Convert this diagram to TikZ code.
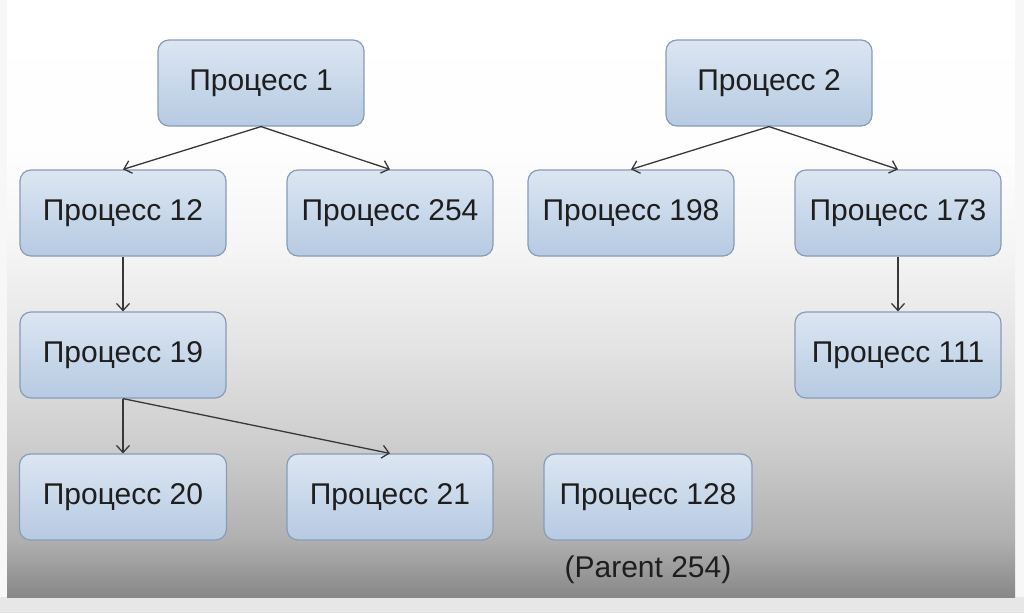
\documentclass[tikz,border=0pt]{standalone}
\usepackage{fontspec}
\setmainfont{Liberation Sans}
\usetikzlibrary{arrows.meta}
\definecolor{boxtop}{HTML}{DCE6F2}
\definecolor{boxbot}{HTML}{B6CAE2}
\definecolor{boxline}{HTML}{889CB6}
\definecolor{arrowc}{HTML}{383838}
\definecolor{txt}{HTML}{1E1E1E}
\definecolor{strip}{HTML}{E7E7E7}
\definecolor{outside}{HTML}{F7F7F7}
\pgfdeclareverticalshading{slidebg}{100bp}{%
  rgb(0bp)=(0.53,0.53,0.53);
  rgb(25bp)=(0.53,0.53,0.53);
  rgb(29.8bp)=(0.69,0.69,0.69);
  rgb(37.3bp)=(0.80,0.80,0.80);
  rgb(45.7bp)=(0.89,0.89,0.89);
  rgb(54.1bp)=(0.96,0.96,0.96);
  rgb(62.4bp)=(0.995,0.995,0.995);
  rgb(75bp)=(1,1,1);
  rgb(100bp)=(1,1,1)}
\tikzset{
  proc/.style={draw=boxline, line width=1.2pt, rounded corners=11pt,
    top color=boxtop, bottom color=boxbot,
    minimum width=206pt, minimum height=86pt, inner sep=0pt,
    text=txt, font=\fontsize{30}{35}\selectfont},
  link/.style={draw=arrowc, line width=1.3pt,
    -{Straight Barb[length=7pt,width=13pt,line width=1.3pt]}},
  note/.style={text=txt, font=\fontsize{30}{35}\selectfont}
}
\begin{document}
\begin{tikzpicture}[x=1pt,y=-1pt]
\useasboundingbox (0,0) rectangle (1024,613);
\fill[outside] (0,0) rectangle (1024,613);
\fill[strip] (0,597) rectangle (1024,613);
\shade[shading=slidebg] (7,0) rectangle (1015,597);

\node[proc] (p1)   at (261,83)  {Процесс 1};
\node[proc] (p2)   at (769,83)  {Процесс 2};
\node[proc] (p12)  at (123,213) {Процесс 12};
\node[proc] (p254) at (390,213) {Процесс 254};
\node[proc] (p198) at (631,213) {Процесс 198};
\node[proc] (p173) at (898,213) {Процесс 173};
\node[proc] (p19)  at (123,355) {Процесс 19};
\node[proc] (p111) at (898,355) {Процесс 111};
\node[proc, minimum width=207pt] (p20) at (123,497) {Процесс 20};
\node[proc] (p21)  at (390,497) {Процесс 21};
\node[proc, minimum width=208pt] (p128) at (648,497) {Процесс 128};
\node[note] (par) at (648,570) {(Parent 254)};

\draw[link] (p1.south) -- (p12.north);
\draw[link] (p1.south) -- (p254.north);
\draw[link] (p2.south) -- (p198.north);
\draw[link] (p2.south) -- (p173.north);
\draw[link] (p12.south) -- (p19.north);
\draw[link] (p173.south) -- (p111.north);
\draw[link] (p19.south) -- (p20.north);
\draw[link] (p19.south) -- (p21.north);
\end{tikzpicture}
\end{document}
